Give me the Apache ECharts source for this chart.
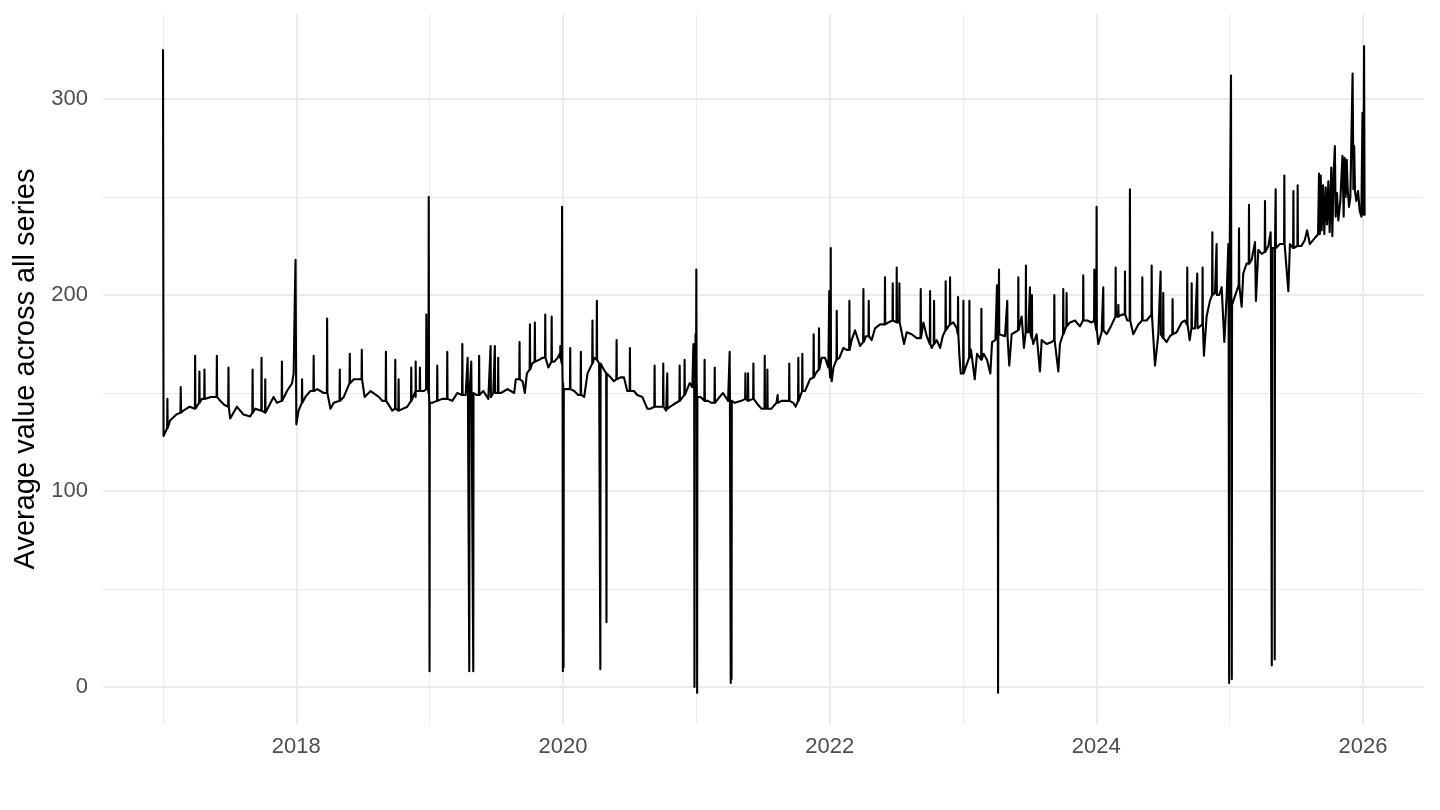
<!DOCTYPE html>
<html lang="en">
<head>
    <meta charset="UTF-8">
    <title>Average value across all series</title>
    <script src="https://cdn.jsdelivr.net/npm/echarts@6/dist/echarts.min.js"></script>
    <style>
        html, body { margin: 0; padding: 0; background: #fff; }
    </style>
</head>
<body>
<div id="main" style="width: 1440px;height:810px;"></div>
<script>
    // x values are decimal years
    const majorYears = [2018, 2020, 2022, 2024, 2026];
    const minorYears = [2017, 2019, 2021, 2023, 2025];
    const majorValues = [0, 100, 200, 300];
    const minorValues = [50, 150, 250];

    // the running level of the line: [year, value]
    const base2017 = [
        [2017.000, 325], [2017.004, 128], [2017.053, 136], [2017.100, 139], [2017.153, 141],
        [2017.200, 143], [2017.253, 143], [2017.291, 147], [2017.358, 148], [2017.429, 146],
        [2017.459, 144], [2017.504, 137], [2017.554, 143], [2017.604, 139], [2017.654, 138],
        [2017.692, 142], [2017.754, 140], [2017.779, 140], [2017.829, 148], [2017.855, 145],
        [2017.905, 145], [2017.930, 151], [2017.968, 155], [2017.980, 160], [2017.988, 196],
        [2017.994, 218]
    ];
    const base2018 = [
        [2018.000, 134], [2018.017, 141], [2018.068, 148], [2018.105, 151], [2018.156, 152],
        [2018.206, 150], [2018.256, 142], [2018.281, 145], [2018.356, 148], [2018.401, 155],
        [2018.431, 157], [2018.461, 157], [2018.512, 148], [2018.557, 151], [2018.619, 148],
        [2018.644, 146], [2018.720, 141], [2018.782, 140], [2018.832, 143], [2018.895, 148],
        [2018.957, 151], [2018.985, 160]
    ];
    const base2019 = [
        [2019.020, 145], [2019.094, 147], [2019.170, 146], [2019.207, 150], [2019.270, 149],
        [2019.350, 149], [2019.402, 151], [2019.440, 147], [2019.477, 150], [2019.534, 150],
        [2019.584, 152], [2019.634, 150], [2019.646, 157], [2019.697, 156], [2019.714, 150],
        [2019.729, 160], [2019.769, 165], [2019.822, 167], [2019.847, 168], [2019.890, 163],
        [2019.935, 166], [2019.960, 168], [2019.975, 170]
    ];
    const base2020 = [
        [2020.010, 152], [2020.084, 151], [2020.114, 149], [2020.159, 148], [2020.184, 160],
        [2020.234, 168], [2020.271, 165], [2020.306, 162], [2020.357, 158], [2020.382, 156],
        [2020.432, 158], [2020.457, 158], [2020.482, 151], [2020.532, 151], [2020.557, 149],
        [2020.595, 148], [2020.632, 142], [2020.657, 142], [2020.720, 143], [2020.774, 141],
        [2020.825, 144], [2020.892, 147], [2020.950, 155], [2020.970, 153]
    ];
    const base2021 = [
        [2021.015, 147], [2021.032, 148], [2021.087, 146], [2021.113, 145], [2021.175, 148],
        [2021.200, 150], [2021.238, 146], [2021.288, 145], [2021.338, 146], [2021.463, 144],
        [2021.488, 142], [2021.563, 142], [2021.601, 145], [2021.639, 146], [2021.677, 146],
        [2021.727, 145], [2021.745, 143], [2021.815, 151], [2021.852, 157], [2021.895, 160],
        [2021.940, 168], [2021.965, 168], [2021.990, 163]
    ];
    const base2022 = [
        [2022.003, 158], [2022.015, 156], [2022.028, 163], [2022.073, 168], [2022.103, 173],
        [2022.128, 172], [2022.165, 177], [2022.190, 182], [2022.228, 174], [2022.273, 179],
        [2022.315, 177], [2022.340, 183], [2022.378, 185], [2022.440, 186], [2022.540, 187],
        [2022.558, 175], [2022.578, 181], [2022.615, 180], [2022.653, 178], [2022.703, 186],
        [2022.728, 179], [2022.765, 173], [2022.803, 177], [2022.828, 173], [2022.848, 179],
        [2022.928, 186], [2022.953, 183], [2022.973, 169], [2022.983, 160]
    ];
    const base2023 = [
        [2023.013, 160], [2023.030, 165], [2023.060, 172], [2023.088, 157], [2023.105, 170],
        [2023.155, 170], [2023.180, 167], [2023.205, 160], [2023.218, 176], [2023.243, 177],
        [2023.280, 181], [2023.315, 179], [2023.347, 164], [2023.365, 180], [2023.390, 181],
        [2023.440, 189], [2023.457, 173], [2023.490, 181], [2023.527, 175], [2023.552, 180],
        [2023.577, 161], [2023.590, 177], [2023.627, 175], [2023.665, 176], [2023.715, 161],
        [2023.727, 175], [2023.802, 186], [2023.840, 187], [2023.877, 184], [2023.932, 187],
        [2023.965, 186]
    ];
    const base2024 = [
        [2024.015, 175], [2024.040, 181], [2024.077, 180], [2024.102, 183], [2024.190, 190],
        [2024.232, 187], [2024.277, 180], [2024.315, 185], [2024.377, 187], [2024.440, 164],
        [2024.465, 180], [2024.527, 176], [2024.552, 179], [2024.602, 181], [2024.640, 186],
        [2024.665, 187], [2024.700, 177], [2024.740, 183], [2024.777, 184], [2024.807, 169],
        [2024.827, 189], [2024.852, 197], [2024.890, 201], [2024.922, 200], [2024.940, 204],
        [2024.960, 176], [2024.977, 199]
    ];
    const base2025 = [
        [2025.027, 194], [2025.047, 201], [2025.090, 194], [2025.102, 211], [2025.127, 216],
        [2025.165, 218], [2025.190, 227], [2025.197, 197], [2025.215, 223], [2025.240, 221],
        [2025.290, 225], [2025.327, 224], [2025.377, 226], [2025.415, 226], [2025.440, 202],
        [2025.452, 226], [2025.538, 225], [2025.563, 228], [2025.581, 233], [2025.601, 226],
        [2025.638, 229], [2025.663, 231], [2025.670, 262], [2025.676, 231], [2025.683, 261],
        [2025.690, 233], [2025.700, 256], [2025.710, 231], [2025.720, 255], [2025.730, 236],
        [2025.740, 258], [2025.750, 232], [2025.762, 265], [2025.770, 230], [2025.780, 262],
        [2025.789, 276], [2025.795, 240], [2025.805, 252], [2025.815, 238], [2025.830, 248],
        [2025.846, 271], [2025.855, 240], [2025.862, 270], [2025.870, 250], [2025.878, 269],
        [2025.885, 254], [2025.895, 245], [2025.905, 250], [2025.922, 313], [2025.928, 254],
        [2025.934, 276], [2025.940, 253], [2025.950, 248], [2025.963, 253], [2025.975, 243],
        [2025.988, 240], [2025.996, 293], [2026.003, 241], [2026.008, 327], [2026.012, 241]
    ];

    // one-day spikes and drops: [year, peak, level around it]
    const spikes2017_2019 = [
        [2017.033, 147, 132], [2017.133, 153, 140], [2017.241, 169, 142], [2017.273, 161, 145],
        [2017.311, 162, 147], [2017.404, 169, 148], [2017.491, 163, 143], [2017.672, 162, 140],
        [2017.739, 168, 141], [2017.767, 157, 140], [2017.892, 166, 146],
        [2018.043, 157, 145], [2018.130, 169, 151], [2018.231, 188, 150], [2018.326, 162, 146],
        [2018.401, 170, 155], [2018.491, 172, 157], [2018.672, 171, 146], [2018.742, 167, 142],
        [2018.767, 157, 141], [2018.862, 163, 146], [2018.895, 166, 151], [2018.927, 163, 151],
        [2018.975, 190, 152], [2018.993, 250, 150], [2018.999, 8, 145],
        [2019.057, 164, 146], [2019.132, 171, 147], [2019.245, 175, 149], [2019.285, 168, 150],
        [2019.297, 8, 150], [2019.312, 166, 150], [2019.327, 8, 150], [2019.371, 169, 149],
        [2019.457, 174, 148], [2019.489, 174, 150], [2019.514, 168, 150], [2019.674, 176, 157],
        [2019.752, 185, 162], [2019.789, 186, 166], [2019.867, 190, 168], [2019.915, 189, 166],
        [2019.980, 174, 168], [2019.993, 245, 165], [2019.999, 8, 155]
    ];
    const spikes2020_2022 = [
        [2020.004, 10, 152], [2020.054, 173, 152], [2020.134, 171, 149], [2020.221, 187, 165],
        [2020.254, 197, 167], [2020.280, 9, 165], [2020.326, 33, 160], [2020.402, 177, 157],
        [2020.502, 173, 151], [2020.687, 164, 143], [2020.752, 165, 143], [2020.782, 160, 142],
        [2020.875, 164, 146], [2020.912, 167, 149], [2020.978, 175, 154], [2020.986, 0, 160],
        [2020.994, 180, 165], [2021.000, 213, 160], [2021.006, -3, 148],
        [2021.062, 167, 146], [2021.138, 163, 145], [2021.250, 171, 146], [2021.258, 2, 146],
        [2021.264, 4, 146], [2021.368, 160, 147], [2021.388, 160, 146], [2021.428, 165, 147],
        [2021.513, 169, 142], [2021.533, 162, 142], [2021.610, 149, 145], [2021.697, 165, 146],
        [2021.765, 168, 146], [2021.795, 170, 151], [2021.880, 180, 158], [2021.920, 183, 162],
        [2021.997, 202, 163],
        [2022.008, 224, 160], [2022.053, 192, 167], [2022.148, 197, 172], [2022.253, 203, 176],
        [2022.293, 197, 179], [2022.415, 209, 185], [2022.473, 206, 187], [2022.503, 214, 186],
        [2022.523, 206, 186], [2022.683, 203, 178], [2022.753, 202, 175], [2022.783, 197, 175],
        [2022.870, 207, 182], [2022.903, 209, 185], [2022.963, 199, 180]
    ];
    const spikes2023_2025 = [
        [2023.003, 197, 160], [2023.048, 197, 168], [2023.138, 193, 167], [2023.255, 205, 178],
        [2023.263, -3, 180], [2023.270, 213, 180], [2023.332, 197, 179], [2023.415, 209, 182],
        [2023.472, 215, 181], [2023.502, 204, 181], [2023.517, 200, 178], [2023.685, 200, 177],
        [2023.752, 203, 180], [2023.777, 201, 184], [2023.902, 210, 187], [2023.985, 213, 187],
        [2024.002, 245, 182],
        [2024.052, 204, 182], [2024.145, 214, 189], [2024.165, 195, 189], [2024.215, 212, 190],
        [2024.252, 254, 187], [2024.345, 209, 187], [2024.415, 215, 190], [2024.482, 212, 180],
        [2024.502, 201, 178], [2024.572, 198, 180], [2024.682, 214, 185], [2024.715, 206, 183],
        [2024.757, 211, 183], [2024.797, 214, 185], [2024.870, 232, 200], [2024.902, 226, 200],
        [2024.990, 226, 199], [2024.996, 2, 200], [2025.010, 312, 200], [2025.016, 4, 195],
        [2025.070, 234, 205], [2025.145, 246, 216], [2025.265, 248, 222], [2025.307, 232, 224],
        [2025.316, 11, 224], [2025.338, 14, 224], [2025.345, 254, 224], [2025.410, 261, 226],
        [2025.478, 253, 224], [2025.510, 256, 225]
    ];

    const baseAll = [].concat(base2017, base2018, base2019, base2020, base2021,
        base2022, base2023, base2024, base2025);
    const spikesAll = [].concat(spikes2017_2019, spikes2020_2022, spikes2023_2025);

    let points = baseAll.slice();
    spikesAll.forEach(function (s) {
        points.push([s[0] - 0.002, s[2]], [s[0], s[1]], [s[0] + 0.002, s[2]]);
    });
    points.sort(function (a, b) { return a[0] - b[0]; });

    const gridColor = '#ebebeb';
    const font = '"Liberation Sans", Arial, Helvetica, sans-serif';

    let chart = echarts.init(document.getElementById('main'));
    let option = {
        animation: false,
        backgroundColor: '#ffffff',
        grid: {
            left: 103,
            right: 17,
            top: 14,
            bottom: 86,
            containLabel: false,
            outerBoundsMode: 'none'
        },
        xAxis: [
            {
                type: 'value',
                min: 2016.55,
                max: 2026.45,
                axisLine: {show: false},
                axisTick: {show: false, customValues: majorYears},
                axisLabel: {
                    customValues: majorYears,
                    formatter: function (v) { return String(Math.round(v)); },
                    color: '#4d4d4d',
                    fontSize: 22,
                    fontFamily: font,
                    margin: 12
                },
                splitLine: {show: true, lineStyle: {color: gridColor, width: 2}}
            },
            {
                type: 'value',
                min: 2016.55,
                max: 2026.45,
                position: 'bottom',
                axisLine: {show: false},
                axisTick: {show: false, customValues: minorYears},
                axisLabel: {show: false},
                splitLine: {show: true, lineStyle: {color: gridColor, width: 1}}
            }
        ],
        yAxis: [
            {
                type: 'value',
                min: -18.9,
                max: 343.4,
                name: 'Average value across all series',
                nameLocation: 'middle',
                nameGap: 63,
                nameTextStyle: {color: '#000', fontSize: 29, fontFamily: font},
                axisLine: {show: false},
                axisTick: {show: false, customValues: majorValues},
                axisLabel: {
                    customValues: majorValues,
                    color: '#4d4d4d',
                    fontSize: 22,
                    fontFamily: font,
                    margin: 15
                },
                splitLine: {show: true, lineStyle: {color: gridColor, width: 2}}
            },
            {
                type: 'value',
                min: -18.9,
                max: 343.4,
                position: 'left',
                axisLine: {show: false},
                axisTick: {show: false, customValues: minorValues},
                axisLabel: {show: false},
                splitLine: {show: true, lineStyle: {color: gridColor, width: 1}}
            }
        ],
        series: [
            {
                type: 'line',
                data: points,
                showSymbol: false,
                symbol: 'none',
                z: 5,
                lineStyle: {color: '#000000', width: 2.1, join: 'round', cap: 'round'}
            }
        ]
    };
    chart.setOption(option);
</script>
</body>
</html>
